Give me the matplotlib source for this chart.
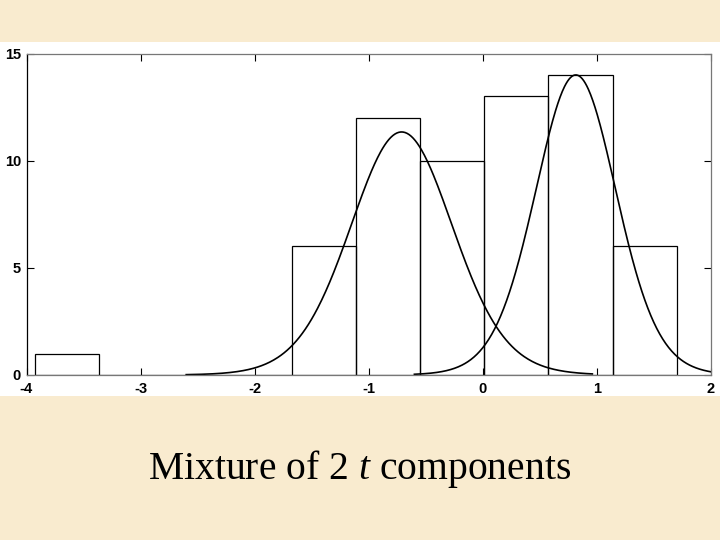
import numpy as np
import matplotlib
matplotlib.use("Agg")
import matplotlib.pyplot as plt
from matplotlib.patches import Rectangle

# ---- data ----
bin_edges = [-3.925, -3.3625, -2.8, -2.2375, -1.675, -1.1125, -0.55, 0.0125, 0.575, 1.1375, 1.7]
bin_counts = [1, 0, 0, 0, 6, 12, 10, 13, 14, 6]

# fitted t components (location, scale, degrees of freedom, peak height, plotted range)
comp_loc = [-0.712, 0.815]
comp_scale = [0.455, 0.36]
comp_dof = [20, 20]
comp_peak = [11.34, 14.0]
comp_range = [(-2.6, 0.96), (-0.6, 2.0)]

x_ticks = [-4, -3, -2, -1, 0, 1, 2]
y_ticks = [0, 5, 10, 15]
title_text = "Mixture of 2 $\\mathit{t}$ components"

plt.rcParams['mathtext.fontset'] = 'custom'
plt.rcParams['mathtext.rm'] = 'Liberation Serif'
plt.rcParams['mathtext.it'] = 'Liberation Serif:italic'

fig = plt.figure(figsize=(7.2, 5.4), dpi=100)
fig.patch.set_facecolor('#F9EBCF')
# white panel behind the plot
fig.add_artist(Rectangle((0, 144 / 540), 1, 354 / 540, transform=fig.transFigure,
                         facecolor='white', edgecolor='none', zorder=0))

ax = fig.add_axes([26.5 / 720, 165 / 540, (711 - 26.5) / 720, (375 - 53.5) / 540])
ax.set_facecolor('white')

# histogram bars (outline only)
lefts = np.array(bin_edges[:-1])
widths = np.diff(bin_edges)
ax.bar(lefts, bin_counts, width=widths, align='edge', facecolor='none',
       edgecolor='black', linewidth=0.9)

# t component curves
for loc, sc, nu, pk, (a, b) in zip(comp_loc, comp_scale, comp_dof, comp_peak, comp_range):
    xs = np.linspace(a, b, 400)
    ys = pk * (1 + ((xs - loc) / sc) ** 2 / nu) ** (-(nu + 1) / 2)
    ax.plot(xs, ys, color='black', linewidth=1.2)

ax.set_xlim(-4, 2)
ax.set_ylim(0, 15)
ax.set_xticks(x_ticks)
ax.set_yticks(y_ticks)
ax.set_xticklabels([str(t) for t in x_ticks])
ax.set_yticklabels([str(t) for t in y_ticks])
ax.tick_params(direction='in', length=5, width=0.8, top=True, right=True,
               labelsize=10.5)
ax.tick_params(axis='x', pad=5)
ax.tick_params(axis='y', pad=4)
for lab in ax.get_xticklabels() + ax.get_yticklabels():
    lab.set_fontweight('bold')
    lab.set_family('Liberation Sans')

ax.spines['left'].set_color('black')
for s in ['top', 'right', 'bottom']:
    ax.spines[s].set_color('#777777')
for s in ax.spines.values():
    s.set_linewidth(0.9)

fig.text(0.4993, 61 / 540, title_text, ha='center', va='baseline',
         family='Liberation Serif', fontsize=28.5)

fig.savefig('out.png', dpi=100, facecolor=fig.get_facecolor())
